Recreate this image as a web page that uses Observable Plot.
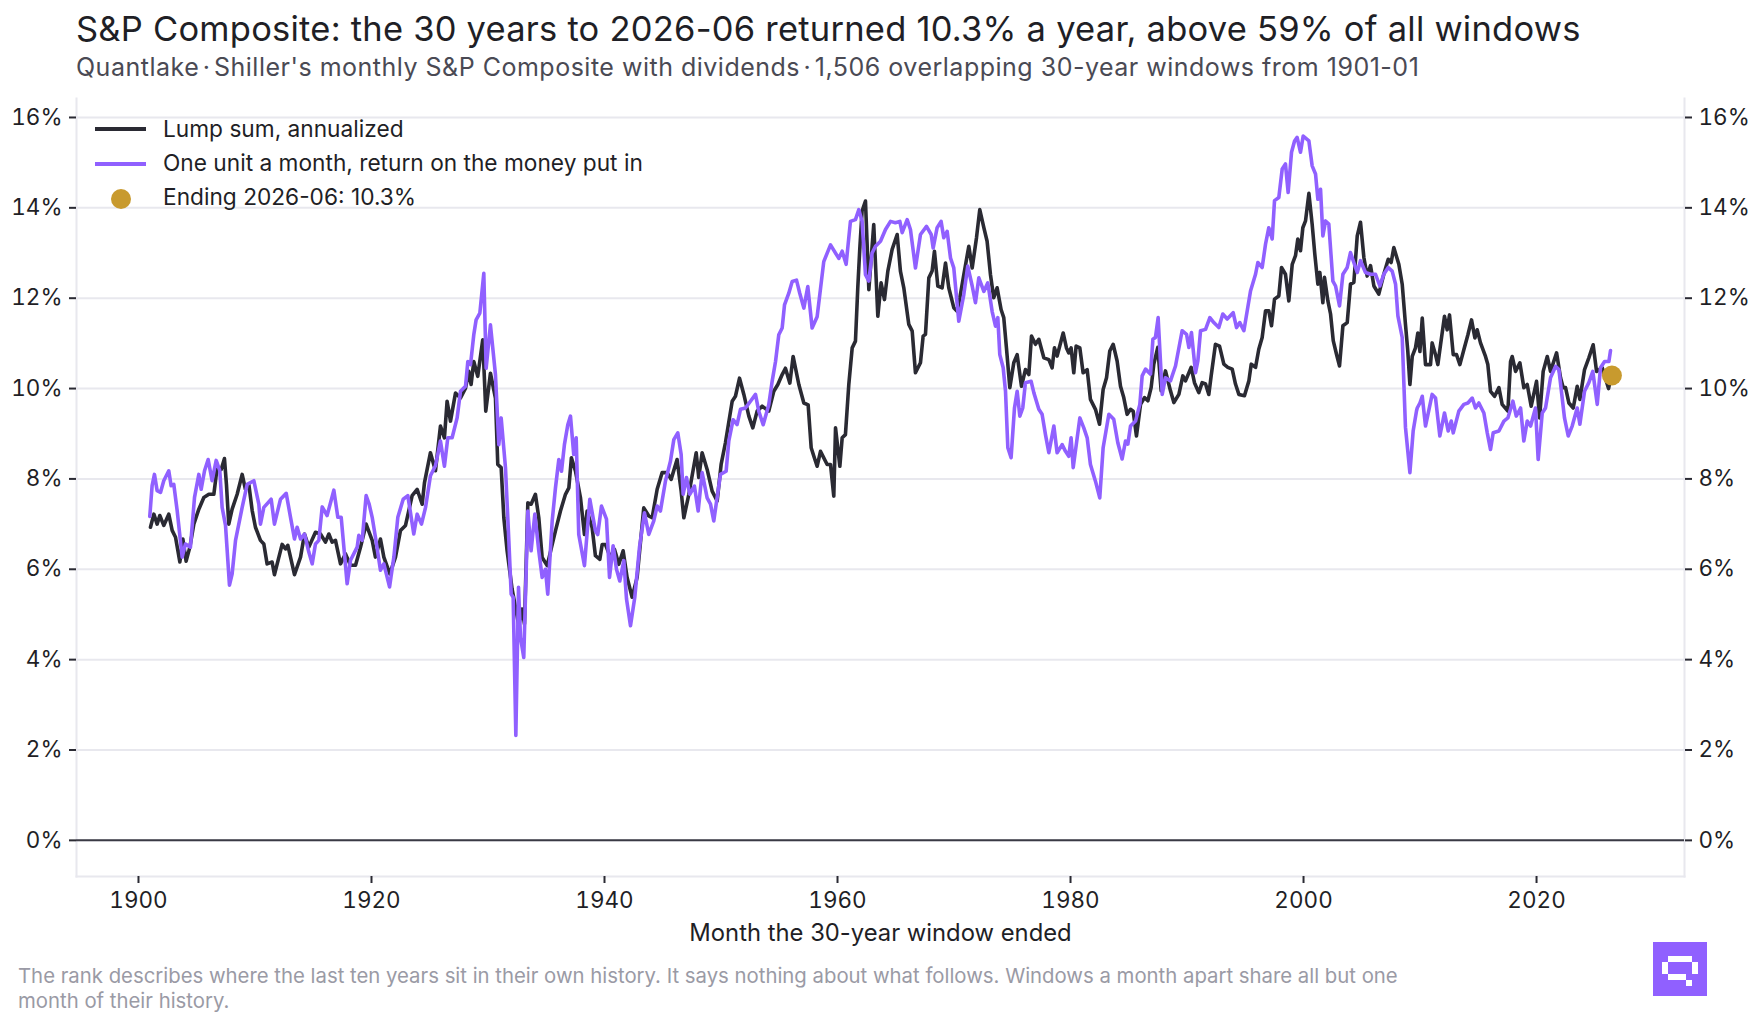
<!DOCTYPE html>
<html>
<head>
<meta charset="utf-8">
<script src="https://cdn.jsdelivr.net/npm/d3@7"></script>
<script src="https://cdn.jsdelivr.net/npm/@observablehq/plot@0.6"></script>
<style>
  html, body { margin: 0; padding: 0; background: #fff; }
  body { width: 1760px; height: 1024px; position: relative; overflow: hidden; font-family: Inter, "Noto Sans", sans-serif; }
  #head { height: 88px; position: relative; }
  #title { position: absolute; left: 76px; top: 6px; font-size: 34.5px; line-height: 46px; color: #1f1f26; white-space: nowrap; letter-spacing: 0.23px; }
  #subtitle { position: absolute; left: 76px; top: 50px; font-size: 25px; line-height: 34px; color: #4a4a54; white-space: nowrap; letter-spacing: 0.5px; }
  #subtitle span { word-spacing: -4px; }
  #chart { height: 872px; position: relative; }
  #chart svg { display: block; }
  #legend { position: absolute; left: 0; top: 0; width: 700px; height: 220px; pointer-events: none; }
  .lg { position: absolute; left: 163px; font-size: 22.7px; line-height: 30px; color: #1f1f26; white-space: nowrap; }
  .sw { position: absolute; left: 95px; width: 51px; height: 3.5px; }
  #dotsw { position: absolute; left: 111px; top: 189px; width: 20px; height: 20px; border-radius: 50%; background: #c89a2e; }
  #caption { position: absolute; left: 18px; top: 963px; width: 1440px; font-size: 20.33px; line-height: 25px; color: #9a9aa5; }
  #logo { position: absolute; left: 1653px; top: 942px; }
</style>
</head>
<body>
<div id="head">
  <div id="title">S&amp;P Composite: the 30 years to 2026-06 returned 10.3% a year, above 59% of all windows</div>
  <div id="subtitle">Quantlake<span> · </span>Shiller's monthly S&amp;P Composite with dividends<span> · </span>1,506 overlapping 30-year windows from 1901-01</div>
</div>
<div id="chart"></div>
<div id="legend">
  <div class="sw" style="top:127px;background:#2a2a33"></div>
  <div class="lg" style="top:114px">Lump sum, annualized</div>
  <div class="sw" style="top:162px;background:#9060ff"></div>
  <div class="lg" style="top:148px">One unit a month, return on the money put in</div>
  <div id="dotsw"></div>
  <div class="lg" style="top:182px">Ending 2026-06: 10.3%</div>
</div>
<div id="caption">The rank describes where the last ten years sit in their own history. It says nothing about what follows. Windows a month apart share all but one month of their history.</div>
<svg id="logo" width="54" height="54" viewBox="0 0 54 54">
  <rect width="54" height="54" fill="#9060ff"/>
  <g fill="#fff">
    <rect x="15" y="14" width="24" height="6"/><rect x="9" y="20" width="6" height="12"/>
    <rect x="39" y="20" width="6" height="12"/><rect x="15" y="32" width="18" height="6"/>
    <rect x="33" y="38" width="6" height="6"/>
  </g>
</svg>
<script>
const yTicks = [0, 2, 4, 6, 8, 10, 12, 14, 16];
const xTicks = [1900, 1920, 1940, 1960, 1980, 2000, 2020];
const xAxisTitle = ["Month the 30-year window ended"];
const ending = [[2026.47, 10.29]];

// [year the window ended, annualized return %]
const lumpSum = [
[1901.03,6.93],[1901.32,7.22],[1901.6,7.0],[1901.83,7.19],[1902.17,6.97],[1902.6,7.22],[1902.89,6.86],[1903.18,6.71],[1903.55,6.16],[1903.81,6.67],[1904.09,6.18],[1904.41,6.49],[1904.75,7.0],[1905.18,7.33],[1905.61,7.59],[1906.04,7.66],[1906.47,7.66],[1906.75,8.25],[1907.1,8.21],[1907.38,8.45],[1907.55,7.88],[1907.75,7.0],[1908.04,7.33],[1908.47,7.66],[1908.9,8.1],[1909.18,7.77],[1909.47,7.88],[1909.76,7.3],[1910.04,6.93],[1910.47,6.64],[1910.76,6.56],[1911.04,6.12],[1911.47,6.16],[1911.67,5.88],[1912.33,6.55],[1912.62,6.45],[1912.82,6.53],[1913.39,5.88],[1913.91,6.27],[1914.25,6.78],[1914.62,6.49],[1915.19,6.82],[1915.62,6.78],[1916.05,6.6],[1916.34,6.78],[1916.62,6.6],[1916.91,6.64],[1917.34,6.12],[1917.77,6.34],[1918.2,6.09],[1918.63,6.09],[1919.06,6.49],[1919.54,7.0],[1920.06,6.64],[1920.34,6.27],[1920.77,6.67],[1921.06,6.27],[1921.57,5.9],[1922.06,6.27],[1922.49,6.86],[1922.92,6.97],[1923.49,7.63],[1923.92,7.77],[1924.35,7.44],[1924.55,7.92],[1925.06,8.58],[1925.49,8.18],
[1925.92,9.17],[1926.26,8.91],[1926.49,9.72],[1926.78,9.28],[1927.21,9.9],[1927.64,9.79],[1928.07,10.01],[1928.35,10.38],[1928.55,10.09],[1928.78,10.6],[1929.12,10.27],[1929.55,11.08],[1929.81,9.5],[1930.21,10.34],[1930.64,9.79],[1930.84,8.32],[1931.13,8.25],[1931.36,7.14],[1931.64,6.41],[1932.07,5.56],[1932.36,5.16],[1932.64,4.75],[1932.93,5.12],[1933.13,4.79],[1933.42,7.47],[1933.7,7.44],[1934.07,7.66],[1934.36,7.14],[1934.65,6.26],[1935.08,6.08],[1935.79,6.85],[1936.22,7.29],[1936.65,7.66],[1936.94,7.8],[1937.16,8.47],[1937.51,8.17],[1937.94,7.58],[1938.28,6.77],[1938.51,7.29],[1938.94,6.92],[1939.22,6.3],[1939.6,6.22],[1939.8,6.55],[1940.08,6.55],[1940.51,6.26],[1940.86,6.44],[1941.23,6.11],[1941.6,6.41],[1941.94,5.82],[1942.37,5.38],[1942.8,5.82],[1943.37,7.36],[1943.8,7.18],[1944.09,7.14],[1944.52,7.77],[1944.95,8.14],[1945.38,8.14],[1945.72,7.99],[1946.23,8.43],[1946.58,7.73],[1946.81,7.14],[1947.24,7.66],[1947.87,8.58],[1948.09,8.03],[1948.38,8.58],[1948.81,8.21],[1949.24,7.73],[1949.67,7.51],[1950.01,8.32],[1950.38,8.8],[1950.96,9.72],[1951.24,9.83],[1951.59,10.23],[1951.96,9.87],[1952.39,9.39],[1952.73,9.13],[1953.1,9.5],[1953.53,9.61],[1954.1,9.5],[1954.53,9.94],[1954.88,10.09],[1955.25,10.31],[1955.53,10.45],[1955.91,10.12],[1956.19,10.71],[1956.68,10.09],[1957.11,9.68],[1957.48,9.64],[1957.74,8.69],[1957.97,8.5],[1958.25,8.28],[1958.54,8.61],[1959.11,8.32],[1959.4,8.32],[1959.68,7.62],[1959.83,9.13],
[1960.2,8.28],[1960.4,8.91],[1960.68,8.98],[1960.97,10.09],[1961.26,10.9],[1961.54,11.05],[1961.74,12.23],[1961.91,13.08],[1962.11,13.93],[1962.4,14.15],[1962.69,12.19],[1963.11,13.63],[1963.46,11.6],[1963.74,12.34],[1964.03,11.97],[1964.32,12.6],[1964.69,13.08],[1965.12,13.41],[1965.4,12.6],[1965.69,12.23],[1966.12,11.42],[1966.41,11.27],[1966.69,10.35],[1967.12,10.57],[1967.35,11.16],[1967.55,11.2],[1967.84,12.45],[1968.12,12.6],[1968.32,13.04],[1968.61,12.27],[1968.98,12.23],[1969.27,12.78],[1969.55,12.23],[1969.98,11.79],[1970.27,11.71],[1970.5,12.01],[1970.84,12.52],[1971.27,13.15],[1971.56,12.67],[1971.93,13.34],[1972.21,13.96],[1972.56,13.56],[1972.84,13.26],[1973.13,12.52],[1973.41,12.01],[1973.7,12.23],[1974.04,11.75],[1974.27,11.57],[1974.5,10.9],[1974.79,10.02],[1975.13,10.57],[1975.42,10.75],[1975.79,10.05],[1976.13,10.42],[1976.42,10.31],[1976.65,11.16],[1976.99,10.98],[1977.28,11.09],[1977.71,10.68],[1978.14,10.64],[1978.42,10.46],[1978.62,10.9],[1978.85,10.72],[1979.37,11.23],[1979.65,10.9],[1979.85,10.79],[1980.05,10.9],[1980.28,10.35],[1980.48,10.94],[1980.8,10.9],[1981.08,10.35],[1981.43,10.42],[1981.71,9.76],[1982.14,9.54],[1982.49,9.21],[1982.8,9.98],[1983.09,10.24],[1983.37,10.83],[1983.66,10.98],[1984.0,10.61],[1984.29,10.05],[1984.57,9.8],[1984.86,9.43],[1985.15,9.54],[1985.38,9.5],[1985.66,8.95],
[1986.01,9.65],[1986.35,9.8],[1986.64,9.73],[1986.92,10.02],[1987.15,10.54],[1987.49,10.91],[1987.78,9.95],[1988.15,10.39],[1988.58,9.95],[1988.87,9.69],[1989.3,9.87],[1989.64,10.28],[1989.87,10.17],[1990.36,10.47],[1990.64,10.13],[1991.01,9.91],[1991.3,10.13],[1991.59,10.1],[1991.87,9.87],[1992.07,10.28],[1992.44,10.98],[1992.79,10.94],[1993.16,10.54],[1993.5,10.47],[1993.88,10.43],[1994.16,10.1],[1994.45,9.87],[1994.93,9.84],[1995.31,10.17],[1995.51,10.54],[1995.88,10.47],[1996.16,10.87],[1996.45,11.13],[1996.74,11.72],[1997.02,11.72],[1997.25,11.39],[1997.51,11.98],[1997.88,12.05],[1998.11,12.68],[1998.45,12.53],[1998.74,11.94],[1999.03,12.75],[1999.31,12.94],[1999.51,13.31],[1999.74,13.05],[1999.94,13.56],[2000.17,13.71],[2000.46,14.32],[2000.74,13.64],[2000.97,12.97],[2001.23,12.31],[2001.4,12.57],[2001.66,11.9],[2001.8,12.46],[2002.09,11.94],[2002.32,11.65],[2002.55,11.06],[2002.83,10.76],[2003.09,10.5],[2003.38,11.39],[2003.75,11.46],[2004.03,12.31],[2004.32,12.35],[2004.61,13.38],[2004.89,13.68],[2005.18,12.9],[2005.46,12.49],[2005.75,12.72],[2006.04,12.27],[2006.46,12.09],[2006.89,12.53],[2007.27,12.86],[2007.52,12.79],[2007.75,13.12],[2008.18,12.75],[2008.47,12.31],[2008.75,11.42],[2008.95,10.83],
[2009.13,10.09],[2009.33,10.71],[2009.61,10.9],[2009.81,11.23],[2009.99,10.82],[2010.19,11.56],[2010.47,10.53],[2010.9,10.53],[2011.04,11.01],[2011.33,10.75],[2011.53,10.53],[2011.76,10.97],[2012.1,11.6],[2012.33,11.3],[2012.53,11.63],[2012.85,10.75],[2013.13,10.75],[2013.42,10.53],[2013.76,10.86],[2014.11,11.19],[2014.42,11.52],[2014.71,11.12],[2014.91,11.3],[2015.19,11.01],[2015.62,10.71],[2015.82,10.53],[2016.05,9.94],[2016.4,9.83],[2016.77,10.02],[2017.05,9.65],[2017.54,9.5],[2017.77,10.6],[2017.91,10.71],[2018.2,10.38],[2018.57,10.57],[2018.91,10.02],[2019.2,10.09],[2019.54,9.61],[2020.0,10.16],[2020.26,9.35],[2020.57,10.38],[2020.92,10.71],[2021.2,10.38],[2021.72,10.79],[2022.06,10.24],[2022.29,10.02],[2022.49,10.02],[2022.78,9.68],[2023.15,9.57],[2023.49,10.05],[2023.72,9.76],[2024.12,10.42],[2024.49,10.68],[2024.86,10.97],[2025.15,10.38],[2025.64,10.46],[2026.18,10.0],[2026.42,10.3]
];

const monthlyUnit = [
[1900.97,7.17],[1901.17,7.85],[1901.37,8.1],[1901.6,7.74],[1901.89,7.7],[1902.17,7.96],[1902.6,8.18],[1902.8,7.85],[1903.03,7.88],[1903.32,7.3],[1903.75,6.27],[1904.03,6.56],[1904.46,6.49],[1904.81,7.59],[1905.18,8.1],[1905.38,7.77],[1905.67,8.18],[1905.98,8.43],[1906.32,7.96],[1906.67,8.41],[1906.98,8.18],[1907.18,7.37],[1907.47,6.97],[1907.81,5.65],[1908.04,5.9],[1908.33,6.64],[1908.9,7.37],[1909.33,7.88],[1909.9,7.96],[1910.33,7.44],[1910.47,7.0],[1910.76,7.37],[1911.39,7.55],[1911.67,7.0],[1912.19,7.55],[1912.68,7.68],[1913.05,7.15],[1913.39,6.67],[1913.62,6.93],[1913.91,6.67],[1914.25,6.78],[1914.62,6.38],[1914.91,6.12],[1915.19,6.56],[1915.48,6.64],[1915.77,7.38],[1916.19,7.19],[1916.77,7.75],[1917.11,7.15],[1917.4,7.15],[1917.91,5.68],[1918.2,6.2],[1918.77,6.49],[1918.91,6.75],[1919.2,6.64],[1919.54,7.63],[1919.8,7.44],[1920.06,7.15],[1920.34,6.71],[1920.77,5.98],[1921.06,6.12],[1921.55,5.61],[1921.92,6.27],[1922.26,7.15],[1922.72,7.55],[1923.12,7.63],[1923.63,6.78],[1923.92,7.22],[1924.29,7.0],[1924.64,7.37],[1925.06,8.07],[1925.49,8.29],
[1925.92,8.84],[1926.26,8.28],[1926.55,8.91],[1926.92,8.91],[1927.35,9.35],[1927.64,9.94],[1928.07,10.05],[1928.27,10.6],[1928.5,10.53],[1928.78,11.19],[1928.98,11.52],[1929.3,11.67],[1929.64,12.55],[1929.84,10.45],[1930.21,11.41],[1930.64,10.31],[1930.93,8.76],[1931.13,9.35],[1931.5,8.25],[1931.79,6.63],[1931.99,5.45],[1932.16,5.38],[1932.39,2.32],[1932.62,5.6],[1932.79,4.49],[1933.07,4.05],[1933.42,7.29],[1933.7,6.41],[1934.02,7.22],[1934.36,6.41],[1934.65,5.82],[1934.93,6.0],[1935.13,5.45],[1935.51,7.07],[1935.79,7.8],[1936.08,8.43],[1936.31,8.17],[1936.56,8.76],[1936.85,9.2],[1937.08,9.39],[1937.36,8.54],[1937.57,8.91],[1937.79,6.77],[1938.28,6.08],[1938.74,7.55],[1939.22,6.85],[1939.42,6.77],[1939.74,7.4],[1940.17,7.11],[1940.43,5.82],[1940.74,6.52],[1941.03,6.0],[1941.31,5.74],[1941.66,6.19],[1941.89,5.34],[1942.23,4.75],[1942.6,5.38],[1943.0,6.48],[1943.43,7.25],[1943.8,6.77],[1944.23,7.07],[1944.52,7.4],[1944.8,7.29],[1945.23,7.95],[1945.66,8.39],[1945.95,8.87],[1946.29,9.02],[1946.58,8.54],[1946.75,7.66],[1947.04,8.03],[1947.32,7.66],[1947.72,7.84],[1948.04,7.29],[1948.38,8.14],[1948.81,7.58],[1949.1,7.44],[1949.38,7.07],[1949.95,8.1],[1950.44,8.17],[1950.67,8.84],[1951.04,9.31],[1951.38,9.2],[1951.67,9.54],[1952.1,9.57],[1952.53,9.72],[1952.96,9.87],[1953.24,9.5],[1953.62,9.2],[1954.1,9.64],[1954.39,10.16],[1954.68,10.6],[1954.96,11.19],[1955.25,11.34],[1955.45,11.85],[1955.82,12.11],[1956.11,12.37],[1956.48,12.4],[1956.76,12.11],[1957.11,11.78],[1957.45,12.26],[1957.82,11.34],[1958.25,11.59],[1958.82,12.81],[1959.4,13.18],[1960.11,12.88],
[1960.4,13.04],[1960.74,12.75],[1961.11,13.7],[1961.54,13.74],[1961.83,13.96],[1962.11,13.7],[1962.4,12.52],[1962.69,12.38],[1962.97,13.0],[1963.26,13.15],[1963.69,13.26],[1964.12,13.52],[1964.55,13.7],[1964.97,13.67],[1965.35,13.7],[1965.55,13.45],[1965.98,13.74],[1966.26,13.52],[1966.69,12.67],[1967.12,13.41],[1967.64,13.59],[1968.04,13.41],[1968.21,13.11],[1968.55,13.56],[1968.89,13.7],[1969.12,13.34],[1969.41,13.48],[1969.7,12.89],[1969.98,12.67],[1970.41,11.49],[1970.84,12.08],[1971.18,12.71],[1971.56,12.27],[1971.84,11.9],[1972.13,12.45],[1972.56,12.15],[1972.9,12.34],[1973.27,11.71],[1973.56,11.38],[1973.76,11.57],[1973.93,10.75],[1974.22,10.46],[1974.42,9.94],[1974.62,8.69],[1974.9,8.47],[1975.19,9.57],[1975.42,9.94],[1975.65,9.39],[1975.9,9.57],[1976.13,10.13],[1976.62,10.16],[1976.85,9.91],[1977.28,9.54],[1977.56,9.43],[1977.85,8.98],[1978.14,8.58],[1978.57,9.17],[1978.85,8.58],[1979.28,8.76],[1979.57,8.61],[1979.85,8.5],[1980.05,8.91],[1980.23,8.25],[1980.8,9.35],[1981.14,9.13],[1981.43,8.91],[1981.71,8.32],[1982.14,7.95],[1982.51,7.58],[1982.8,8.69],[1983.29,9.43],[1983.71,9.32],[1984.06,8.8],
[1984.43,8.44],[1984.72,8.84],[1984.92,8.77],[1985.15,9.17],[1985.58,9.28],[1985.95,9.65],[1986.15,10.28],[1986.44,10.43],[1986.87,10.32],[1987.07,11.09],[1987.29,11.13],[1987.52,11.57],[1987.87,9.87],[1988.15,10.24],[1988.58,10.17],[1989.01,10.5],[1989.58,11.28],[1989.96,11.2],[1990.16,10.91],[1990.38,11.24],[1990.73,10.35],[1990.93,10.61],[1991.16,11.28],[1991.59,11.31],[1991.96,11.57],[1992.3,11.46],[1992.73,11.35],[1993.07,11.65],[1993.45,11.54],[1993.96,11.68],[1994.25,11.35],[1994.53,11.46],[1994.88,11.28],[1995.45,12.16],[1995.88,12.53],[1996.08,12.79],[1996.45,12.68],[1996.74,13.2],[1997.02,13.56],[1997.31,13.31],[1997.51,14.16],[1997.88,14.23],[1998.17,14.86],[1998.45,14.97],[1998.68,14.34],[1998.97,15.23],[1999.23,15.48],[1999.45,15.56],[1999.74,15.23],[1999.97,15.59],[2000.46,15.48],[2000.74,14.93],[2001.03,14.75],[2001.23,14.19],[2001.46,14.41],[2001.66,13.38],[2001.89,13.71],[2002.17,13.64],[2002.52,12.38],[2002.75,12.27],[2003.09,11.83],[2003.38,12.53],[2003.75,12.68],[2004.03,13.01],[2004.32,12.79],[2004.61,12.57],[2004.89,12.83],[2005.32,12.57],[2005.75,12.53],[2006.18,12.53],[2006.55,12.27],[2006.89,12.53],[2007.27,12.68],[2007.61,12.6],[2007.9,12.31],[2008.1,11.61],[2008.47,11.13],[2008.75,9.14],[2009.13,8.14],[2009.41,9.06],[2009.7,9.51],
[2009.76,9.57],[2009.99,9.68],[2010.19,9.83],[2010.47,9.17],[2011.04,9.87],[2011.33,9.79],[2011.7,8.95],[2012.1,9.46],[2012.42,9.06],[2012.68,9.28],[2012.85,9.02],[2013.33,9.5],[2013.76,9.65],[2014.11,9.68],[2014.48,9.79],[2014.76,9.57],[2015.05,9.68],[2015.48,9.46],[2015.77,9.02],[2016.05,8.65],[2016.28,9.02],[2016.77,9.06],[2017.2,9.28],[2017.54,9.35],[2017.97,9.72],[2018.26,9.39],[2018.63,9.57],[2018.91,8.84],[2019.2,9.28],[2019.49,9.17],[2019.91,9.57],[2020.14,8.43],[2020.49,9.46],[2020.77,9.57],[2021.2,10.24],[2021.63,10.49],[2021.92,10.42],[2022.4,9.35],[2022.72,8.95],[2023.06,9.17],[2023.49,9.57],[2023.72,9.21],[2024.12,9.94],[2024.49,10.13],[2024.83,10.38],[2025.21,9.65],[2025.49,10.46],[2025.84,10.6],[2026.21,10.6],[2026.35,10.84]
];

const INK = "#1f1f26", DARK = "#2a2a33", PURPLE = "#9060ff", GOLD = "#c89a2e", GRID = "#e8e8ee";
const yr = d => d[0], val = d => d[1];

const chart = Plot.plot({
  width: 1760,
  height: 872,
  marginTop: 10,
  marginBottom: 84,
  marginLeft: 76,
  marginRight: 76,
  style: { fontFamily: "Inter, 'Noto Sans', sans-serif", fontSize: "22.5px", color: INK, background: "#fff" },
  x: { domain: [1894.68, 2032.7] },
  y: { domain: [-0.8, 16.42] },
  marks: [
    Plot.gridY(yTicks, { stroke: GRID, strokeOpacity: 1, strokeWidth: 2 }),
    Plot.frame({ anchor: "left", stroke: GRID, strokeWidth: 2 }),
    Plot.frame({ anchor: "right", stroke: GRID, strokeWidth: 2 }),
    Plot.frame({ anchor: "bottom", stroke: GRID, strokeWidth: 2 }),
    Plot.ruleY([0], { stroke: "#3a3a44", strokeWidth: 2 }),
    Plot.axisY({ anchor: "left", ticks: yTicks, tickFormat: d => d + "%", tickSize: 7, tickPadding: 7, stroke: DARK, strokeWidth: 2, label: null }),
    Plot.axisY({ anchor: "right", ticks: yTicks, tickFormat: d => d + "%", tickSize: 7, tickPadding: 7, stroke: DARK, strokeWidth: 2, label: null }),
    Plot.axisX({ ticks: xTicks, tickFormat: d => String(d), tickSize: 7, tickPadding: 9, stroke: DARK, strokeWidth: 2, label: null }),
    Plot.text(xAxisTitle, { frameAnchor: "bottom", lineAnchor: "middle", dy: 57, fontSize: 23.8, fill: INK }),
    Plot.line(lumpSum, { x: yr, y: val, stroke: DARK, strokeWidth: 3.6, strokeLinejoin: "round" }),
    Plot.line(monthlyUnit, { x: yr, y: val, stroke: PURPLE, strokeWidth: 3.6, strokeLinejoin: "round" }),
    Plot.dot(ending, { x: yr, y: val, r: 10, fill: GOLD, stroke: "none" })
  ]
});
document.getElementById("chart").appendChild(chart);
</script>
</body>
</html>
